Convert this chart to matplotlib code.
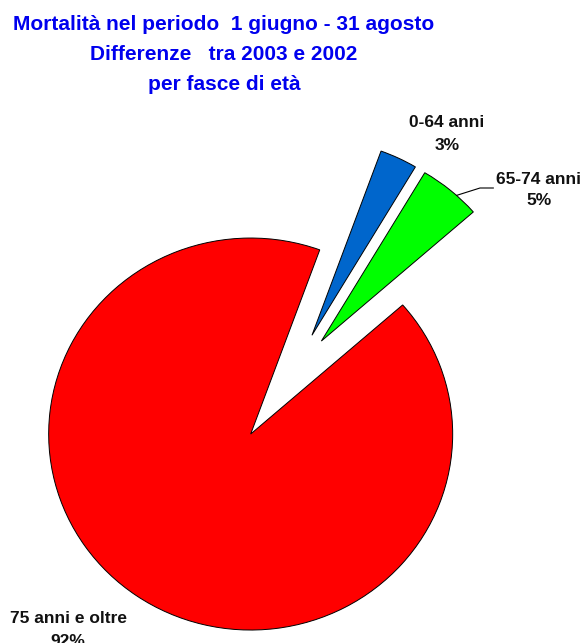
import matplotlib
matplotlib.use("Agg")
import matplotlib.pyplot as plt
import numpy as np

# Age-group shares of the 2003 vs 2002 mortality difference
categories = ["0-64 anni", "65-74 anni", "75 anni e oltre"]
shares = [3, 5, 92]
pct_labels = ["3%", "5%", "92%"]
colors = ["#0066CC", "#00FF00", "#FF0000"]
explode = [0.22, 0.22, 0.37]

title_lines = ["Mortalità nel periodo  1 giugno - 31 agosto",
               "Differenze   tra 2003 e 2002",
               "per fasce di età"]

W, H = 584, 643
fig = plt.figure(figsize=(W / 100, H / 100), dpi=100)
ax = fig.add_axes([0, 0, 1, 1])

wedges, _ = ax.pie(shares, colors=colors, explode=explode, startangle=70,
                   counterclock=False,
                   wedgeprops=dict(edgecolor="black", linewidth=0.7))

# pixel scale of the plotting area (slightly wider than tall)
sx, sy = 202.0, 196.0
ox, oy = 292.9, 374.2
ax.set_aspect("auto")
ax.set_xlim(-ox / sx, (W - ox) / sx)
ax.set_ylim(-(H - oy) / sy, oy / sy)
ax.axis("off")

font = "Liberation Sans"

def ftext(x, y, s, **kw):
    fig.text(x / W, 1 - y / H, s, family=font, fontweight="bold",
             ha="center", va="baseline", **kw)

for line, yb in zip(title_lines, [30.5, 60.5, 90.0]):
    ftext(224, yb, line, fontsize=15, color="#0000EE")

label_pos = [(447, 127, 150), (539, 183.5, 205), (68, 623, 646)]
for cat, pct, (x, y1, y2) in zip(categories, pct_labels, label_pos):
    ftext(x, y1, cat, fontsize=12.5, color="#111111")
    ftext(x, y2, pct, fontsize=12.5, color="#111111")

# leader line from the 65-74 wedge to its label
g = wedges[1]
ang = np.deg2rad(48.0)
start = (g.center[0] + g.r * np.cos(ang), g.center[1] + g.r * np.sin(ang))
elbow = ((480 - ox) / sx, (oy - 188) / sy)
end = ((493.3 - ox) / sx, (oy - 188) / sy)
ax.plot([start[0], elbow[0], end[0]], [start[1], elbow[1], end[1]],
        color="black", linewidth=0.8, clip_on=False)

fig.savefig("out.png", dpi=100, facecolor="white")
